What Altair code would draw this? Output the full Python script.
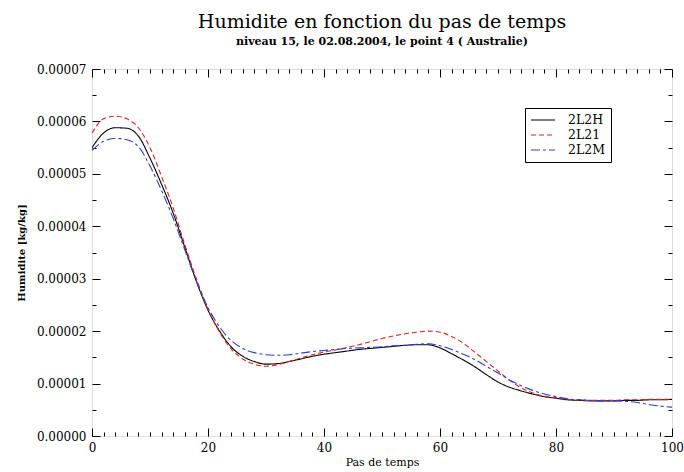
import altair as alt
import pandas as pd

# ---- data (values in units of 1e-5 kg/kg) ----
steps = list(range(0, 101, 2))
s_2L2H = [5.50, 5.78, 5.88, 5.87, 5.72, 5.30, 4.80, 4.25, 3.60, 2.95, 2.40, 2.00, 1.70, 1.52, 1.42, 1.37,
          1.38, 1.42, 1.47, 1.52, 1.56, 1.59, 1.62, 1.65, 1.67, 1.69, 1.71, 1.73, 1.74, 1.74, 1.68, 1.57,
          1.45, 1.32, 1.17, 1.03, 0.93, 0.86, 0.80, 0.75, 0.72, 0.69, 0.68, 0.67, 0.67, 0.67, 0.68, 0.68,
          0.69, 0.69, 0.70]
s_2L21 = [5.78, 6.05, 6.10, 6.05, 5.88, 5.50, 4.95, 4.35, 3.65, 3.00, 2.42, 1.98, 1.66, 1.47, 1.37, 1.33,
          1.36, 1.42, 1.49, 1.55, 1.60, 1.64, 1.69, 1.74, 1.80, 1.86, 1.91, 1.95, 1.98, 2.00, 1.98, 1.90,
          1.77, 1.60, 1.42, 1.24, 1.06, 0.92, 0.82, 0.76, 0.73, 0.70, 0.69, 0.68, 0.68, 0.68, 0.69, 0.69,
          0.70, 0.70, 0.70]
s_2L2M = [5.45, 5.62, 5.68, 5.65, 5.52, 5.15, 4.68, 4.15, 3.55, 2.95, 2.45, 2.08, 1.82, 1.67, 1.59, 1.55,
          1.54, 1.55, 1.58, 1.61, 1.63, 1.65, 1.67, 1.68, 1.69, 1.70, 1.72, 1.73, 1.75, 1.76, 1.72, 1.65,
          1.56, 1.46, 1.33, 1.20, 1.07, 0.96, 0.87, 0.80, 0.75, 0.71, 0.69, 0.68, 0.67, 0.67, 0.66, 0.64,
          0.60, 0.57, 0.55]
series_names = ["2L2H", "2L21", "2L2M"]
series_colors = ["#000000", "#e8201c", "#2a3fd8"]
series_dashes = [[1, 0], [5, 3], [9, 3, 3, 3]]

x_major = [0, 20, 40, 60, 80, 100]
x_minor = [v for v in range(0, 101, 2) if v % 20 != 0]
y_major = [0, 1e-5, 2e-5, 3e-5, 4e-5, 5e-5, 6e-5, 7e-5]
y_minor = [0.5e-5, 1.5e-5, 2.5e-5, 3.5e-5, 4.5e-5, 5.5e-5, 6.5e-5]

rows = []
for name, vals in zip(series_names, [s_2L2H, s_2L21, s_2L2M]):
    for s, v in zip(steps, vals):
        rows.append({"step": s, "hum": v * 1e-5, "serie": name})
df = pd.DataFrame(rows)

FONT = "DejaVu Serif"
xscale = alt.Scale(domain=[0, 100], nice=False, zero=False)
yscale = alt.Scale(domain=[0, 7e-5], nice=False)

MAJ = 8
MIN = 4


def xaxis(orient, values, size, labels=False, title=None):
    kw = dict(orient=orient, values=values, tickSize=size, offset=-size, domain=False,
              grid=False, labels=labels, tickColor="black", tickWidth=1)
    if labels:
        kw.update(labelFont=FONT, labelFontSize=12, labelColor="black", labelPadding=6,
                  format="d", labelFlush=False)
    if title:
        kw.update(title=title, titleFont=FONT, titleFontSize=11, titleColor="black",
                  titleFontWeight="normal", titlePadding=3)
    else:
        kw.update(title=None)
    return alt.Axis(**kw)


def yaxis(orient, values, size, labels=False, title=None):
    kw = dict(orient=orient, values=values, tickSize=size, offset=-size, domain=False,
              grid=False, labels=labels, tickColor="black", tickWidth=1)
    if labels:
        kw.update(labelFont=FONT, labelFontSize=12, labelColor="black", labelPadding=6,
                  format=".5f", labelFlush=False)
    if title:
        kw.update(title=title, titleFont=FONT, titleFontSize=10, titleColor="black",
                  titleFontWeight="bold", titlePadding=10)
    else:
        kw.update(title=None)
    return alt.Axis(**kw)


main = alt.Chart(df).mark_line(strokeWidth=1.1, interpolate="monotone").encode(
    x=alt.X("step:Q", scale=xscale, axis=xaxis("bottom", x_major, MAJ, True, "Pas de temps")),
    y=alt.Y("hum:Q", scale=yscale, axis=yaxis("left", y_major, MAJ, True, "Humidite [kg/kg]")),
    color=alt.Color("serie:N", scale=alt.Scale(domain=series_names, range=series_colors),
                    legend=alt.Legend(title=None, orient="none", legendX=433, legendY=39,
                                      strokeColor="black", fillColor="white", padding=5,
                                      labelFont=FONT, labelFontSize=12.5, labelColor="black",
                                      symbolType="M-1,0H3", symbolSize=144, symbolStrokeWidth=1.1,
                                      rowPadding=1, labelOffset=24)),
    strokeDash=alt.StrokeDash("serie:N", scale=alt.Scale(domain=series_names, range=series_dashes),
                              legend=None),
    detail="serie:N",
)

ghost = lambda xa, ya: alt.Chart(df).mark_line(opacity=0).encode(
    x=alt.X("step:Q", scale=xscale, axis=xa),
    y=alt.Y("hum:Q", scale=yscale, axis=ya),
    detail="serie:N",
)

l2 = ghost(xaxis("bottom", x_minor, MIN), yaxis("left", y_minor, MIN))
l3 = ghost(xaxis("top", x_major, MAJ), yaxis("right", y_major, MAJ))
l4 = ghost(xaxis("top", x_minor, MIN), yaxis("right", y_minor, MIN))

chart = alt.layer(main, l2, l3, l4).resolve_axis(x="independent", y="independent").properties(
    width=580, height=367,
    autosize=alt.AutoSizeParams(type="none"),
    padding={"left": 92, "top": 69, "right": 12, "bottom": 36},
    title=alt.TitleParams(
        text="Humidite en fonction du pas de temps",
        subtitle="niveau 15, le 02.08.2004, le point 4 ( Australie)",
        font=FONT, fontSize=19, fontWeight="normal", color="black",
        subtitleFont=FONT, subtitleFontSize=11, subtitleColor="black", subtitleFontWeight="bold",
        subtitlePadding=4, anchor="middle", offset=16,
    ),
).configure_view(stroke="black", strokeWidth=1.2).configure(background="white")

chart.save("out.html", embed_options={"renderer": "svg", "actions": False})
